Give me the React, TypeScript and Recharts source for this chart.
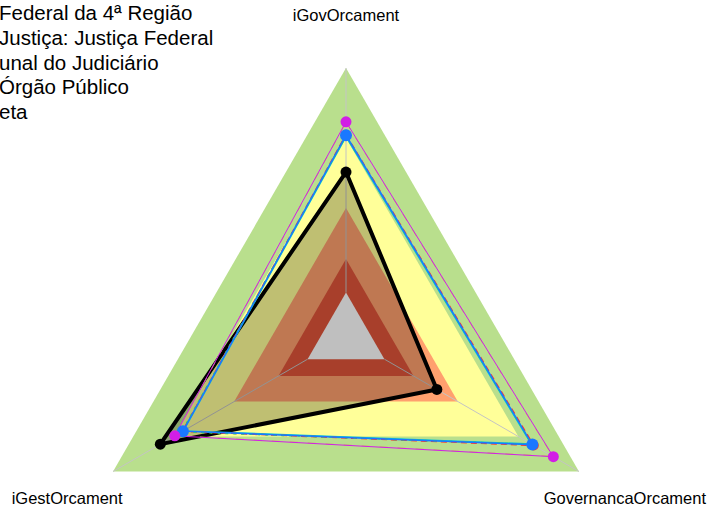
import { PolarAngleAxis, PolarRadiusAxis, Radar, RadarChart } from 'recharts';

const EIXOS = ['iGovOrcament', 'GovernancaOrcament', 'iGestOrcament'];

// faixas de fundo (valor constante por eixo)
const FAIXA_VERDE = [1, 1, 1];
const FAIXA_AMARELA = [0.74, 0.74, 0.74];
const FAIXA_LARANJA = [0.48, 0.48, 0.48];
const FAIXA_VERMELHA = [0.29, 0.29, 0.29];
const CENTRO = [0.165, 0.165, 0.165];

// séries
const TRF4 = [0.613, 0.39, 0.797];
const SEGMENTO = [0.752, 0.806, 0.702];
const TRIBUNAL = [0.748, 0.798, 0.705];
const ORGAO = [0.745, 0.795, 0.698];
const MEDIA = [0.75, 0.8, 0.7];
const META = [0.8, 0.89, 0.735];
const META2 = [0.798, 0.887, 0.733];

const LEGENDA = [
  'Federal da 4ª Região',
  'Justiça: Justiça Federal',
  'unal do Judiciário',
  'Órgão Público',
  'eta',
];

const data = EIXOS.map((eixo, i) => ({
  eixo,
  verde: FAIXA_VERDE[i],
  amarela: FAIXA_AMARELA[i],
  laranja: FAIXA_LARANJA[i],
  vermelha: FAIXA_VERMELHA[i],
  centro: CENTRO[i],
  trf4: TRF4[i],
  segmento: SEGMENTO[i],
  tribunal: TRIBUNAL[i],
  orgao: ORGAO[i],
  media: MEDIA[i],
  meta: META[i],
  meta2: META2[i],
}));

const CX = 346;
const CY = 337;
const R = 269;
const FONT = 'Liberation Sans, Arial, sans-serif';

function AxisTick(props: any) {
  const { payload } = props;
  const a = (payload.coordinate * Math.PI) / 180;
  const x = CX + 322 * Math.cos(a);
  const y = CY - 322 * Math.sin(a);
  return (
    <text x={x} y={y} textAnchor="middle" dominantBaseline="central" fontSize={16.5} fontFamily={FONT} fill="#000">
      {payload.value}
    </text>
  );
}

// linhas dos eixos, do anel interno até a borda
function Spokes(props: any) {
  const pts = props.points || [];
  return (
    <g>
      {pts.map((p: any, i: number) => {
        const x0 = p.cx + (p.x - p.cx) * CENTRO[i];
        const y0 = p.cy + (p.y - p.cy) * CENTRO[i];
        return <line key={i} x1={x0} y1={y0} x2={p.x} y2={p.y} stroke="#c4c4c4" strokeWidth={1} />;
      })}
    </g>
  );
}

function BlackDot(props: any) {
  const { cx, cy } = props;
  if (cx == null || cy == null) return null;
  return <circle cx={cx} cy={cy} r={5.5} fill="#000" />;
}

export default function App() {
  return (
    <div style={{ position: 'absolute', left: 0, top: 0, width: 708, height: 509, background: '#fff', overflow: 'hidden' }}>
      <RadarChart width={708} height={509} data={data} cx={CX} cy={CY} outerRadius={R} margin={{ top: 0, right: 0, bottom: 0, left: 0 }}>
        <PolarRadiusAxis domain={[0, 1]} tick={false} axisLine={false} />
        <PolarAngleAxis dataKey="eixo" tick={<AxisTick />} axisLine={false} tickLine={false} />
        <Radar dataKey="verde" stroke="none" fill="#b9df8d" fillOpacity={1} isAnimationActive={false} />
        <Radar dataKey="amarela" stroke="none" fill="#ffff99" fillOpacity={1} isAnimationActive={false} />
        <Radar dataKey="laranja" stroke="none" fill="#ffa06e" fillOpacity={1} isAnimationActive={false} />
        <Radar dataKey="vermelha" stroke="none" fill="#e0553a" fillOpacity={1} isAnimationActive={false} />
        <Radar dataKey="centro" stroke="none" fill="#ffffff" fillOpacity={1} isAnimationActive={false} />
        <Radar dataKey="verde" shape={<Spokes />} isAnimationActive={false} />
        <Radar dataKey="trf4" stroke="#000" strokeWidth={4} fill="#000" fillOpacity={0.25} dot={<BlackDot />} isAnimationActive={false} />
        <Radar dataKey="orgao" stroke="#00c8d8" strokeWidth={1.5} fill="none" isAnimationActive={false} />
        <Radar dataKey="segmento" stroke="#ff3030" strokeWidth={1.5} strokeDasharray="6 4" fill="none" dot={{ r: 5, fill: '#ff3030', stroke: 'none' }} isAnimationActive={false} />
        <Radar dataKey="tribunal" stroke="#30e050" strokeWidth={1.5} strokeDasharray="3 5" fill="none" dot={{ r: 5, fill: '#30e050', stroke: 'none' }} isAnimationActive={false} />
        <Radar dataKey="media" stroke="#1a78ff" strokeWidth={1.5} fill="none" dot={{ r: 6, fill: '#1a78ff', stroke: 'none' }} isAnimationActive={false} />
        <Radar dataKey="meta2" stroke="#c8b860" strokeWidth={1} strokeDasharray="8 10" fill="none" isAnimationActive={false} />
        <Radar dataKey="meta" stroke="#d21ee6" strokeWidth={1} fill="none" dot={{ r: 5.5, fill: '#d21ee6', stroke: 'none' }} isAnimationActive={false} />
      </RadarChart>
      <div style={{ position: 'absolute', left: -1, top: 1, fontFamily: FONT, fontSize: 20.5, lineHeight: '24.8px', color: '#000', whiteSpace: 'nowrap' }}>
        {LEGENDA.map((t) => (
          <div key={t}>{t}</div>
        ))}
      </div>
    </div>
  );
}
